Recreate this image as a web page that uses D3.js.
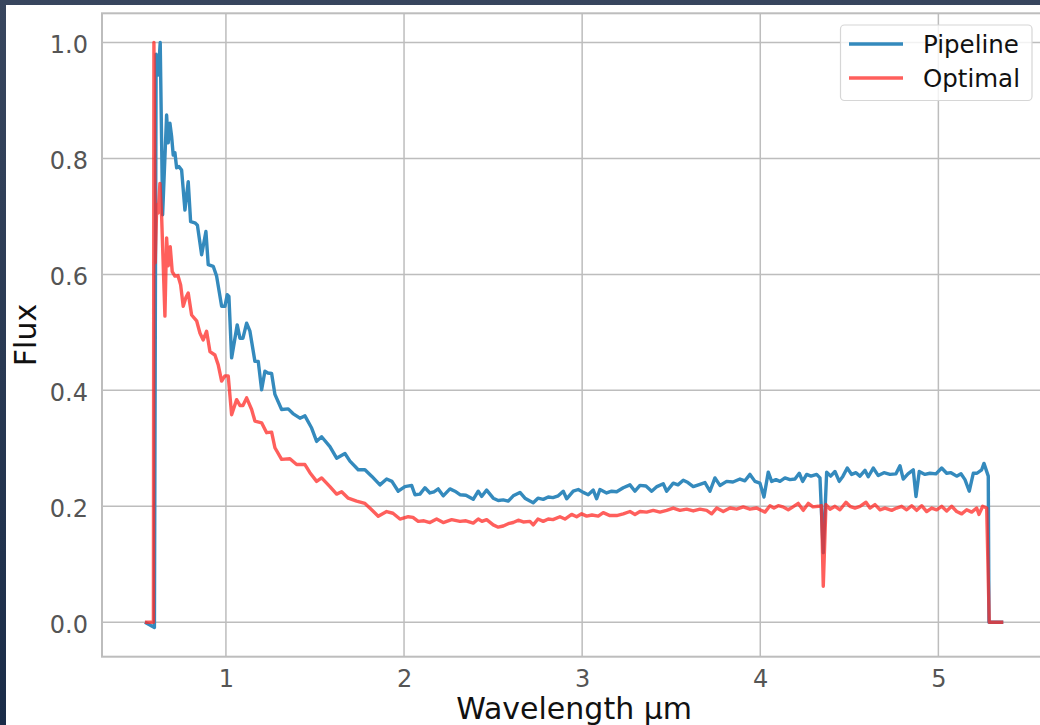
<!DOCTYPE html>
<html>
<head>
<meta charset="utf-8">
<script src="https://cdn.jsdelivr.net/npm/d3@7"></script>
<style>
body { margin: 0; background: #fff; }
text { font-family: "DejaVu Sans", sans-serif; }
</style>
</head>
<body>
<div id="chart"></div>
<script>
// spectra as [wavelength (um), flux]
var pipelineSpectrum = [
[0.5452,0],[0.5985,-0.009],[0.6081,0.98],[0.6199,0.944],[0.6311,1.0],[0.6446,0.703],[0.6670,0.875],[0.6760,0.827],
[0.6856,0.861],[0.6951,0.838],[0.7041,0.806],[0.7136,0.81],[0.7232,0.784],[0.7361,0.786],[0.7513,0.78],[0.7698,0.711],
[0.7883,0.76],[0.8018,0.691],[0.8259,0.689],[0.8400,0.685],[0.8636,0.634],[0.8877,0.674],[0.9006,0.617],[0.9287,0.614],
[0.9478,0.597],[0.9759,0.545],[0.9944,0.545],[1.0073,0.565],[1.0168,0.562],[1.0320,0.456],[1.0634,0.513],[1.0786,0.49],
[1.0955,0.49],[1.1162,0.516],[1.1348,0.502],[1.1628,0.45],[1.1814,0.45],[1.2004,0.401],[1.2190,0.433],[1.2358,0.43],
[1.2566,0.429],[1.2751,0.393],[1.3127,0.367],[1.3498,0.368],[1.3762,0.36],[1.4155,0.352],[1.4436,0.356],[1.4812,0.335],
[1.5093,0.312],[1.5373,0.32],[1.5839,0.303],[1.6216,0.283],[1.6682,0.291],[1.6962,0.278],[1.7428,0.263],[1.7805,0.263],
[1.8181,0.252],[1.8647,0.237],[1.9023,0.247],[1.9321,0.243],[1.9674,0.226],[2.0050,0.234],[2.0427,0.236],[2.0612,0.22],
[2.0893,0.221],[2.1173,0.232],[2.1454,0.223],[2.1679,0.225],[2.1920,0.23],[2.2201,0.218],[2.2577,0.23],[2.2858,0.226],
[2.3139,0.22],[2.3476,0.219],[2.3885,0.212],[2.4166,0.226],[2.4357,0.217],[2.4638,0.228],[2.5008,0.214],[2.5289,0.21],
[2.5570,0.211],[2.5851,0.209],[2.6131,0.218],[2.6508,0.224],[2.6788,0.214],[2.7069,0.209],[2.7254,0.206],[2.7518,0.214],
[2.7816,0.212],[2.8097,0.216],[2.8360,0.215],[2.8658,0.218],[2.8939,0.226],[2.9130,0.213],[2.9500,0.226],[2.9781,0.229],
[3.0062,0.224],[3.0342,0.22],[3.0623,0.228],[3.0814,0.213],[3.0999,0.229],[3.1375,0.223],[3.1656,0.226],[3.1937,0.225],
[3.2308,0.232],[3.2684,0.237],[3.2965,0.226],[3.3245,0.236],[3.3582,0.235],[3.3902,0.226],[3.4200,0.234],[3.4554,0.239],
[3.4744,0.226],[3.5115,0.24],[3.5379,0.237],[3.5676,0.245],[3.5940,0.241],[3.6238,0.234],[3.6614,0.238],[3.6895,0.241],
[3.7176,0.226],[3.7456,0.249],[3.7737,0.236],[3.8113,0.243],[3.8467,0.242],[3.8860,0.247],[3.9141,0.244],[3.9422,0.255],
[3.9702,0.243],[3.9983,0.24],[4.0208,0.216],[4.0449,0.259],[4.0640,0.243],[4.0881,0.246],[4.1106,0.243],[4.1387,0.249],
[4.1667,0.246],[4.1948,0.247],[4.2190,0.257],[4.2380,0.243],[4.2605,0.255],[4.2847,0.252],[4.3166,0.255],[4.3352,0.249],
[4.3537,0.12],[4.3728,0.259],[4.3953,0.252],[4.4194,0.26],[4.4435,0.243],[4.4643,0.252],[4.4884,0.266],[4.5131,0.255],
[4.5373,0.258],[4.5598,0.252],[4.5879,0.262],[4.6064,0.251],[4.6344,0.266],[4.6625,0.253],[4.6945,0.258],[4.7282,0.255],
[4.7619,0.256],[4.7844,0.27],[4.8029,0.247],[4.8293,0.256],[4.8590,0.263],[4.8742,0.217],[4.8927,0.26],[4.9247,0.255],
[4.9528,0.257],[4.9865,0.256],[5.0185,0.266],[5.0466,0.257],[5.0707,0.258],[5.1027,0.252],[5.1269,0.256],[5.1493,0.246],
[5.1735,0.226],[5.1959,0.257],[5.2167,0.257],[5.2431,0.263],[5.2560,0.274],[5.2801,0.252],[5.2841,0],[5.3644,0]
];

var optimalSpectrum = [
[0.5452,0],[0.5929,0],[0.5957,1.0],[0.6030,0.62],[0.6115,0.72],[0.6199,0.706],[0.6294,0.757],[0.6390,0.70],
[0.6575,0.528],[0.6670,0.663],[0.6760,0.615],[0.6873,0.648],[0.6985,0.605],[0.7136,0.597],[0.7305,0.598],[0.7457,0.582],
[0.7602,0.545],[0.7754,0.56],[0.7883,0.568],[0.8074,0.53],[0.8355,0.52],[0.8540,0.499],[0.8725,0.487],[0.8916,0.502],
[0.9102,0.467],[0.9382,0.461],[0.9568,0.444],[0.9759,0.416],[0.9944,0.425],[1.0129,0.425],[1.0320,0.358],[1.0601,0.384],
[1.0786,0.374],[1.0955,0.374],[1.1162,0.387],[1.1443,0.367],[1.1628,0.347],[1.2004,0.344],[1.2285,0.327],[1.2566,0.328],
[1.2751,0.301],[1.3127,0.281],[1.3593,0.282],[1.3970,0.272],[1.4436,0.272],[1.4716,0.258],[1.5093,0.243],[1.5373,0.249],
[1.5839,0.234],[1.6216,0.221],[1.6496,0.225],[1.6867,0.214],[1.7338,0.209],[1.7805,0.205],[1.8181,0.194],[1.8551,0.183],
[1.9023,0.191],[1.9377,0.188],[1.9770,0.178],[2.0236,0.182],[2.0500,0.181],[2.0797,0.174],[2.1117,0.175],[2.1454,0.172],
[2.1830,0.178],[2.2201,0.172],[2.2673,0.177],[2.3139,0.174],[2.3476,0.175],[2.3885,0.171],[2.4166,0.178],[2.4374,0.174],
[2.4638,0.177],[2.5008,0.168],[2.5289,0.164],[2.5570,0.166],[2.5851,0.17],[2.6131,0.172],[2.6412,0.176],[2.6693,0.173],
[2.7069,0.174],[2.7254,0.168],[2.7518,0.178],[2.7816,0.174],[2.8097,0.178],[2.8360,0.177],[2.8753,0.182],[2.9034,0.178],
[2.9410,0.186],[2.9691,0.182],[2.9972,0.187],[3.0253,0.183],[3.0550,0.185],[3.0904,0.183],[3.1184,0.189],[3.1561,0.184],
[3.1937,0.184],[3.2308,0.187],[3.2684,0.191],[3.2965,0.186],[3.3245,0.191],[3.3621,0.19],[3.3992,0.193],[3.4368,0.19],
[3.4744,0.193],[3.5115,0.197],[3.5491,0.193],[3.5867,0.195],[3.6238,0.192],[3.6614,0.195],[3.6990,0.193],[3.7271,0.187],
[3.7552,0.197],[3.7922,0.191],[3.8299,0.197],[3.8675,0.195],[3.9045,0.199],[3.9422,0.195],[3.9797,0.197],[3.9983,0.194],
[4.0264,0.19],[4.0544,0.201],[4.0769,0.197],[4.1010,0.201],[4.1274,0.199],[4.1572,0.194],[4.1836,0.199],[4.2133,0.205],
[4.2414,0.193],[4.2695,0.205],[4.2959,0.199],[4.3256,0.2],[4.3436,0.201],[4.3537,0.062],[4.3689,0.203],[4.3913,0.195],
[4.4194,0.2],[4.4475,0.194],[4.4812,0.207],[4.5036,0.2],[4.5317,0.197],[4.5598,0.2],[4.5935,0.207],[4.6159,0.197],
[4.6440,0.203],[4.6721,0.194],[4.7002,0.197],[4.7377,0.193],[4.7658,0.197],[4.7939,0.2],[4.8220,0.194],[4.8501,0.201],
[4.8781,0.193],[4.9062,0.201],[4.9343,0.191],[4.9624,0.197],[4.9904,0.194],[5.0185,0.2],[5.0466,0.192],[5.0747,0.2],
[5.1027,0.191],[5.1308,0.187],[5.1589,0.194],[5.1870,0.19],[5.2150,0.197],[5.2280,0.186],[5.2487,0.2],[5.2712,0.197],
[5.2856,0],[5.3644,0]
];

var seriesNames = ["Pipeline", "Optimal"];
var xTicks = [1, 2, 3, 4, 5];
var yTicks = [0.0, 0.2, 0.4, 0.6, 0.8, 1.0];

var width = 1040;
var height = 725;
var plot = {left: 102, top: 13.3, right: 1046.2, bottom: 656.7};

var blue = "#348abd";
var red = "#ff2a26";

var svg = d3.select("#chart")
  .append("svg")
  .attr("width", width)
  .attr("height", height);

var defs = svg.append("defs");
var bg = defs.append("linearGradient")
  .attr("id", "frame-bg")
  .attr("x1", "0%").attr("y1", "0%")
  .attr("x2", "0%").attr("y2", "100%");
bg.append("stop").attr("offset", 0).attr("stop-color", "#38465e");
bg.append("stop").attr("offset", 1).attr("stop-color", "#1a2c48");

// dark page frame, white figure
svg.append("rect").attr("width", width).attr("height", height).style("fill", "url(#frame-bg)");
svg.append("rect").attr("x", 6).attr("y", 5).attr("width", width - 6).attr("height", height - 5).style("fill", "#fff");

// matplotlib style 5% margins on the data range
var allPts = pipelineSpectrum.concat(optimalSpectrum);
var xExt = d3.extent(allPts, function(d) { return d[0]; });
var yExt = d3.extent(allPts, function(d) { return d[1]; });
var xPad = (xExt[1] - xExt[0]) * 0.05;
var yPad = (yExt[1] - yExt[0]) * 0.05;

var xScale = d3.scaleLinear()
  .domain([xExt[0] - xPad, xExt[1] + xPad])
  .range([plot.left, plot.right]);
var yScale = d3.scaleLinear()
  .domain([yExt[0] - yPad, yExt[1] + yPad])
  .range([plot.bottom, plot.top]);

//Grid
var grid = svg.append("g").attr("class", "grid")
  .style("stroke", "#bdbdbd").style("stroke-width", 1.5);
grid.selectAll(".vgrid").data(xTicks).enter().append("line")
  .attr("x1", function(d) { return xScale(d); }).attr("x2", function(d) { return xScale(d); })
  .attr("y1", plot.top).attr("y2", plot.bottom);
grid.selectAll(".hgrid").data(yTicks).enter().append("line")
  .attr("y1", function(d) { return yScale(d); }).attr("y2", function(d) { return yScale(d); })
  .attr("x1", plot.left).attr("x2", plot.right);

//Spines
var spines = svg.append("g").style("stroke", "#bdbdbd").style("stroke-width", 2).style("fill", "none");
spines.append("rect")
  .attr("x", plot.left).attr("y", plot.top)
  .attr("width", plot.right - plot.left).attr("height", plot.bottom - plot.top);

//Axes (no tick marks, labels only)
var xAxis = d3.axisBottom(xScale).tickValues(xTicks).tickSize(0).tickPadding(13)
  .tickFormat(d3.format("d"));
var yAxis = d3.axisLeft(yScale).tickValues(yTicks).tickSize(0).tickPadding(14)
  .tickFormat(d3.format(".1f"));

var gx = svg.append("g")
  .attr("transform", "translate(0," + plot.bottom + ")")
  .call(xAxis);
var gy = svg.append("g")
  .attr("transform", "translate(" + plot.left + ",0)")
  .call(yAxis);
[gx, gy].forEach(function(g) {
  g.select(".domain").remove();
  g.selectAll("text")
    .style("font-family", "'DejaVu Sans', sans-serif")
    .style("font-size", "24px")
    .style("fill", "#555");
});
gy.selectAll("text").attr("dy", "0.41em");

//Axis titles
svg.append("text")
  .attr("x", (plot.left + plot.right) / 2)
  .attr("y", 719)
  .attr("text-anchor", "middle")
  .style("font-size", "30px")
  .style("fill", "#111")
  .text("Wavelength µm");

svg.append("text")
  .attr("transform", "translate(36," + (plot.top + plot.bottom) / 2 + ") rotate(-90)")
  .attr("text-anchor", "middle")
  .style("font-size", "30px")
  .style("fill", "#111")
  .text("Flux");

//Lines
var line = d3.line()
  .x(function(d) { return xScale(d[0]); })
  .y(function(d) { return yScale(d[1]); });

svg.append("path")
  .datum(pipelineSpectrum)
  .attr("d", line)
  .style("fill", "none")
  .style("stroke", blue)
  .style("stroke-width", 3.4)
  .style("stroke-linejoin", "round");

svg.append("path")
  .datum(optimalSpectrum)
  .attr("d", line)
  .style("fill", "none")
  .style("stroke", red)
  .style("stroke-opacity", 0.75)
  .style("stroke-width", 3.4)
  .style("stroke-linejoin", "round");

//Legend
var legend = svg.append("g").attr("class", "legend");
legend.append("rect")
  .attr("x", 840.5).attr("y", 25)
  .attr("width", 191.5).attr("height", 75.5)
  .attr("rx", 4)
  .style("fill", "#fff").style("fill-opacity", 0.8)
  .style("stroke", "#d6d6d6").style("stroke-width", 1.2);

var legendRows = legend.selectAll(".row")
  .data(seriesNames)
  .enter().append("g")
  .attr("transform", function(d, i) { return "translate(0," + (44 + i * 34) + ")"; });
legendRows.append("line")
  .attr("x1", 849).attr("x2", 903)
  .style("stroke", function(d, i) { return i === 0 ? blue : red; })
  .style("stroke-opacity", function(d, i) { return i === 0 ? 1 : 0.75; })
  .style("stroke-width", 3.4);
legendRows.append("text")
  .attr("x", 923).attr("y", 9)
  .style("font-size", "24.5px")
  .style("fill", "#111")
  .text(function(d) { return d; });
</script>
</body>
</html>
